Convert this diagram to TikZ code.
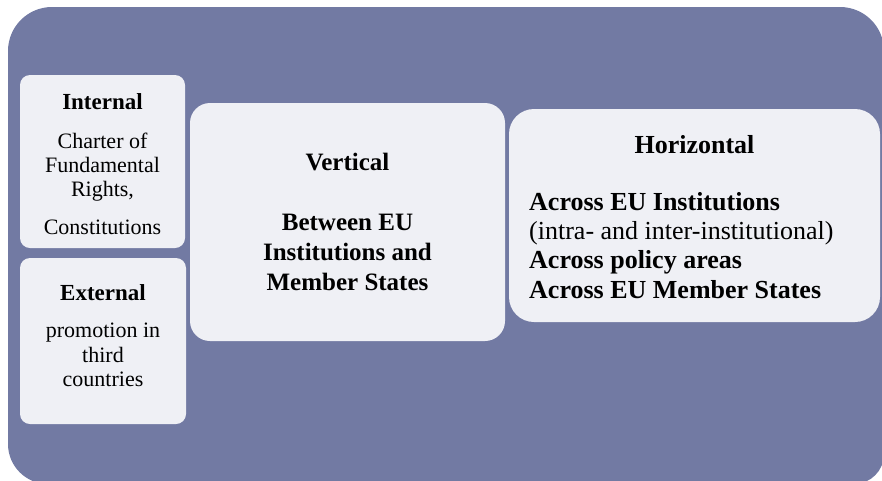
\documentclass[tikz,border=0pt]{standalone}
\usepackage{fontspec}
\setmainfont{Liberation Serif}
\usepackage{xcolor}
\usepackage{tikz}
\definecolor{slateback}{RGB}{114,122,163}
\definecolor{panelfill}{RGB}{239,240,245}
\tikzset{
  panel/.style={fill=panelfill,draw=none,inner sep=0pt,outer sep=0pt,anchor=north west},
  small/.style={font=\fontsize{22}{24}\selectfont,inner sep=0pt,anchor=base},
  smallhead/.style={font=\fontsize{23}{25}\selectfont\bfseries,inner sep=0pt,anchor=base},
  mid/.style={font=\fontsize{25}{30}\selectfont\bfseries,inner sep=0pt,anchor=base},
  big/.style={font=\fontsize{26}{29}\selectfont,inner sep=0pt,anchor=base west}
}
\newcommand{\sline}[4]{\node[small] (#1) at (#2,#3) {#4};}
\newcommand{\hzline}[4]{\node[big] (#1) at (#2,#3) {#4};}

\begin{document}
\begin{tikzpicture}[x=1pt,y=1pt]
\useasboundingbox (0,0) rectangle (882,-480);
\begin{scope}
\clip (0,0) rectangle (882,-480);
\fill[slateback] (8,-200) [rounded corners=44pt] -- (8,-7) -- (884,-7) -- (884,-200)
  [rounded corners=30pt] -- (884,-484) [rounded corners=40pt] -- (8,-484) -- (8,-200) -- cycle;
\end{scope}

% boxes
\node[panel,rounded corners=10pt,minimum width=165pt,minimum height=173pt] (internal) at (20,-75) {};
\node[panel,rounded corners=10pt,minimum width=166pt,minimum height=166pt] (external) at (20,-258) {};
\node[panel,rounded corners=20pt,minimum width=315pt,minimum height=238pt] (vertical) at (190,-103) {};
\node[panel,rounded corners=25pt,minimum width=371pt,minimum height=213pt] (horizontal) at (509,-109) {};

% internal
\node[smallhead] (int-head) at (102.5,-109) {Internal};
\sline{int-a}{102.5}{-148}{Charter of}
\sline{int-b}{102.5}{-172}{Fundamental}
\sline{int-c}{102.5}{-196}{Rights,}
\sline{int-d}{102.5}{-234}{Constitutions}

% external
\node[smallhead] (ext-head) at (103,-300) {External};
\sline{ext-a}{103}{-337}{promotion in}
\sline{ext-b}{103}{-362}{third}
\sline{ext-c}{103}{-386}{countries}

% vertical
\node[mid] (ver-head) at (347.5,-170) {Vertical};
\node[mid] (ver-a) at (347.5,-230) {Between EU};
\node[mid] (ver-b) at (347.5,-260) {Institutions and};
\node[mid] (ver-c) at (347.5,-290) {Member States};

% horizontal
\node[big,anchor=base,font=\fontsize{26}{29}\selectfont\bfseries] (hor-head) at (694.5,-153) {Horizontal};
\hzline{hor-a}{529}{-210}{\textbf{Across EU Institutions}}
\hzline{hor-b}{529}{-239}{(intra- and inter-institutional)}
\hzline{hor-c}{529}{-268}{\textbf{Across policy areas}}
\hzline{hor-d}{529}{-298}{\textbf{Across EU Member States}}
\end{tikzpicture}
\end{document}
